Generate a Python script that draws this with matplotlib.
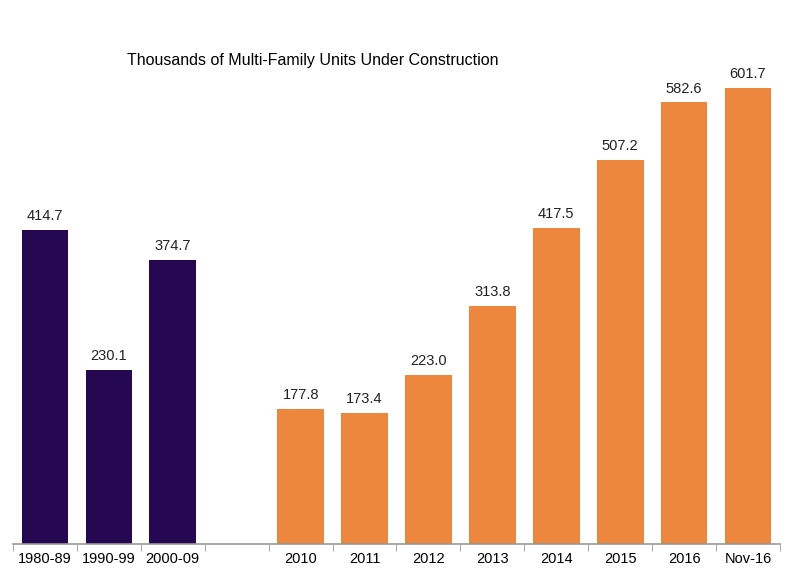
import numpy as np
import matplotlib.pyplot as plt

plt.rcParams['font.family'] = ['Liberation Sans', 'DejaVu Sans']

labels = ['1980-89', '1990-99', '2000-09', '', '2010', '2011', '2012', '2013',
          '2014', '2015', '2016', 'Nov-16']
values = [414.7, 230.1, 374.7, None, 177.8, 173.4, 223.0, 313.8,
          417.5, 507.2, 582.6, 601.7]
purple = '#250752'
orange = '#EE873E'
colors = [purple] * 3 + [None] + [orange] * 8

fig = plt.figure(figsize=(8, 5.83), dpi=100)
ax = fig.add_axes([13 / 800, 39 / 583, 767 / 800, 524 / 583])

x = np.arange(len(labels))
for i, v in enumerate(values):
    if v is None:
        continue
    ax.bar(x[i], v, width=0.73, color=colors[i])
    ax.text(x[i], v + 9, f'{v:.1f}', ha='center', va='bottom', fontsize=10.5, color='#222222')

ax.set_xlim(-0.5, len(labels) - 0.5)
ax.set_ylim(0, 524 / 0.758)
ax.set_yticks([])
ax.set_xticks(x)
ax.set_xticklabels(labels, fontsize=10.5)
ax.tick_params(axis='x', length=0, pad=6)
ax.set_xticks(np.arange(-0.5, len(labels)), minor=True)
ax.tick_params(axis='x', which='minor', length=5, color='#999999', direction='out')
for s in ['top', 'right', 'left']:
    ax.spines[s].set_visible(False)
ax.spines['bottom'].set_color('#999999')
ax.spines['bottom'].set_linewidth(1.2)

fig.text(313 / 800, 1 - 60 / 583, 'Thousands of Multi-Family Units Under Construction',
         ha='center', va='center', fontsize=11.5)

fig.savefig('out.png', dpi=100)
